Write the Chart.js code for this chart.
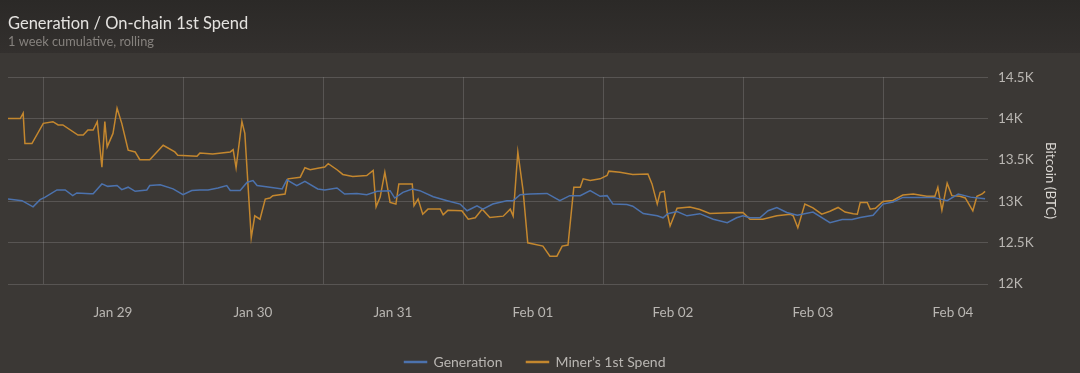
<!DOCTYPE html>
<html>
<head>
<meta charset="utf-8">
<script src="https://cdn.jsdelivr.net/npm/chart.js@4"></script>
<style>
  html, body { margin: 0; padding: 0; background: #3b3835; }
  #wrap { width: 1080px; height: 373px; position: relative; }
</style>
</head>
<body>
<div id="wrap"><canvas id="minerChart"></canvas></div>
<script>
// hours counted from Jan 29 00:00
const dayLabels = ["Jan 29", "Jan 30", "Jan 31", "Feb 01", "Feb 02", "Feb 03", "Feb 04"];
const yTicks = [12000, 12500, 13000, 13500, 14000, 14500];

const genHours = [-6, -3.6, -1.7, -0.5, 0.3, 2.4, 3.8, 5.1, 5.8, 8.1, 8.6, 10.1, 11.1, 12.7, 13.5, 14.6, 15.8, 17.8, 18.3, 20.1,
  22.3, 24, 25.5, 26.9, 28.3, 30, 31.5, 32.1, 33.8, 35, 36, 36.7, 38.9, 41, 41.8, 43.5, 44.9, 47.1, 48.3, 50.4,
  51.7, 53.8, 55.5, 57.3, 59.5, 60.3, 61.7, 63.3, 64.6, 66.9, 69.3, 71.5, 72.7, 74.4, 75.4, 77.1, 79.5, 80.6, 81.8, 83.5,
  86.4, 88.6, 90.3, 92.1, 93.8, 95.5, 96.7, 97.7, 100.1, 101.1, 102.9, 105.3, 106.3, 107.1, 108.7, 110.4, 112.6, 114.9, 117.3, 118.9,
  120, 121.2, 122.9, 124.3, 125.8, 127.5, 129.3, 132, 134.9, 137, 138.7, 140.1, 142.3, 144, 145.7, 147.4, 149.8, 152.6, 155, 156.9,
  159, 161.5];
const genValues = [13027, 13007, 12933, 13020, 13047, 13137, 13137, 13068, 13100, 13090, 13090, 13210, 13180, 13190, 13140, 13170, 13120, 13137, 13190, 13200,
  13150, 13080, 13130, 13137, 13137, 13160, 13190, 13130, 13130, 13230, 13251, 13190, 13169, 13149, 13259, 13190, 13242, 13149, 13137, 13160,
  13088, 13095, 13080, 13120, 13128, 13039, 13108, 13149, 13128, 13055, 13007, 12966, 12885, 12946, 12905, 12966, 13007, 13007, 13080, 13088,
  13095, 13007, 13068, 13068, 13128, 13060, 13068, 12966, 12960, 12940, 12852, 12824, 12800, 12850, 12876, 12824, 12850, 12783, 12742, 12800,
  12824, 12800, 12800, 12885, 12925, 12864, 12830, 12870, 12742, 12780, 12780, 12803, 12830, 12966, 12990, 13047, 13047, 13047, 13007, 13088,
  13050, 13030];

const spendHours = [-6, -3.9, -3.4, -3.1, -1.9, 0.05, 1.7, 2.6, 3.4, 6, 6.9, 7.7, 8.6, 9.3, 10.1, 10.6, 11, 12, 12.7, 13.5,
  14.6, 15.8, 16.6, 18.3, 20.6, 22.6, 23.1, 26.4, 26.9, 29.1, 32.1, 32.6, 33.1, 34.1, 34.6, 35.7, 36.3, 37.2, 38.1, 38.9,
  39.4, 41.5, 42, 44.1, 44.9, 45.8, 47.1, 48.3, 48.9, 50.4, 51.4, 53.1, 55.5, 56.6, 57.1, 57.8, 58.6, 59.5, 60.5, 61,
  63.3, 63.6, 64.3, 65.1, 66, 68.1, 68.6, 69.4, 71.8, 72.9, 74.1, 75.3, 76.6, 78.9, 80.1, 80.6, 81.4, 82.3, 83.1, 85.7,
  86.9, 88.1, 89, 90, 91, 92.1, 92.6, 93.8, 95.5, 96.7, 97, 98.9, 101.1, 103.7, 104.4, 105.3, 105.8, 106.5, 107, 107.5,
  108.7, 110.9, 112.6, 114.3, 117.8, 120, 121.2, 123.4, 125.8, 128.1, 128.6, 129.4, 130.6, 132, 133.5, 134.9, 136.3, 137.5, 138.9, 139.6,
  140.1, 141.3, 141.8, 142.7, 144, 145.7, 147.4, 149.2, 151.5, 152.9, 153.4, 154.1, 155, 155.8, 157.2, 158.1, 159.4, 160.1, 161, 161.5];
const spendValues = [14000, 14000, 14064, 13698, 13698, 13942, 13962, 13922, 13922, 13800, 13800, 13860, 13860, 13962, 13413, 13962, 13657, 13820, 14125, 13942,
  13617, 13596, 13503, 13503, 13677, 13596, 13555, 13543, 13584, 13570, 13596, 13625, 13405, 13962, 13820, 12559, 12824, 12783, 13027, 13039,
  13068, 13088, 13271, 13291, 13405, 13381, 13400, 13413, 13454, 13381, 13324, 13299, 13310, 13372, 12933, 13050, 13352, 12986, 12966, 13210,
  13210, 12946, 13027, 12844, 12905, 12905, 12836, 12890, 12885, 12783, 12800, 12905, 12803, 12820, 12905, 12820, 13596, 13128, 12498, 12458,
  12336, 12336, 12458, 12470, 13169, 13169, 13271, 13250, 13271, 13312, 13364, 13350, 13324, 13330, 13210, 12966, 13108, 13120, 12864, 12702,
  12917, 12930, 12900, 12852, 12860, 12864, 12783, 12783, 12824, 12844, 12824, 12681, 12966, 12920, 12844, 12880, 12925, 12870, 12850, 12844,
  12986, 12986, 12905, 12915, 12998, 13010, 13076, 13088, 13060, 13060, 13169, 12893, 13218, 13068, 13060, 13040, 12885, 13060, 13088, 13120];

const hourMin = -6;
const hourMax = 162;

function toPoints(xs, ys) {
  return xs.map((h, i) => ({ x: h, y: ys[i] }));
}

const textColor = "#b9b6b2";
const gridColor = "rgba(255,255,255,0.15)";

// paint page background and darker header band
const backdrop = {
  id: "backdrop",
  beforeDraw(chart) {
    const ctx = chart.ctx;
    ctx.save();
    ctx.fillStyle = "#3b3835";
    ctx.fillRect(0, 0, chart.width, chart.height);
    let grad = ctx.createLinearGradient(0, 0, 0, 53);
    grad.addColorStop(0, "#2b2927");
    grad.addColorStop(1, "#33302e");
    ctx.fillStyle = grad;
    ctx.fillRect(0, 0, chart.width, 53);
    ctx.restore();
  }
};

new Chart(document.getElementById("minerChart"), {
  type: "line",
  data: {
    datasets: [
      {
        label: "Generation",
        data: toPoints(genHours, genValues),
        borderColor: "#4c72ad",
        backgroundColor: "#4c72ad",
        borderWidth: 1.5,
        pointRadius: 0,
        tension: 0
      },
      {
        label: "Miner\u2019s 1st Spend",
        data: toPoints(spendHours, spendValues),
        borderColor: "#c4872e",
        backgroundColor: "#c4872e",
        borderWidth: 1.5,
        pointRadius: 0,
        tension: 0
      }
    ]
  },
  options: {
    responsive: true,
    maintainAspectRatio: false,
    animation: false,
    layout: { padding: { left: 8, right: 18, top: 0, bottom: -6 } },
    plugins: {
      title: {
        display: true,
        text: "Generation / On-chain 1st Spend",
        align: "start",
        color: "#e4e2df",
        font: { family: "Lato", size: 16.5, weight: "normal" },
        padding: { top: 14, bottom: 0 }
      },
      subtitle: {
        display: true,
        text: "1 week cumulative, rolling",
        align: "start",
        color: "#86827e",
        font: { family: "Lato", size: 12.8 },
        padding: { top: 0, bottom: 28 }
      },
      legend: {
        position: "bottom",
        labels: {
          color: textColor,
          font: { family: "Lato", size: 14 },
          boxWidth: 22,
          boxHeight: 1,
          padding: 24
        }
      },
      tooltip: { enabled: false }
    },
    scales: {
      x: {
        type: "linear",
        min: hourMin,
        max: hourMax,
        weight: 0,
        afterBuildTicks: axis => {
          axis.ticks = dayLabels.map((d, i) => ({ value: i * 24 }));
        },
        grid: { color: gridColor, drawTicks: false },
        border: { display: false },
        ticks: { display: false }
      },
      xl: {
        type: "linear",
        position: "bottom",
        min: hourMin,
        max: hourMax,
        weight: 1,
        afterBuildTicks: axis => {
          axis.ticks = dayLabels.map((d, i) => ({ value: i * 24 + 12 }));
        },
        afterFit: axis => { axis.height = 47; },
        grid: { display: false, drawTicks: false },
        border: { display: false },
        ticks: {
          color: textColor,
          font: { family: "Lato", size: 13.5 },
          padding: 21,
          maxRotation: 0,
          autoSkip: false,
          callback: v => dayLabels[(v - 12) / 24]
        }
      },
      y: {
        position: "right",
        min: 12000,
        max: 14500,
        afterBuildTicks: axis => {
          axis.ticks = yTicks.map(v => ({ value: v }));
        },
        afterFit: axis => { axis.width = 74; },
        grid: { color: gridColor, drawTicks: false },
        border: { display: false },
        ticks: {
          color: textColor,
          font: { family: "Lato", size: 13.5 },
          padding: 10,
          callback: v => (v / 1000) + "K"
        },
        title: {
          display: true,
          text: "Bitcoin (BTC)",
          color: "#dad7d3",
          font: { family: "Lato", size: 13.5 },
          padding: { top: 4, bottom: 4 }
        }
      }
    }
  },
  plugins: [backdrop]
});
</script>
</body>
</html>
